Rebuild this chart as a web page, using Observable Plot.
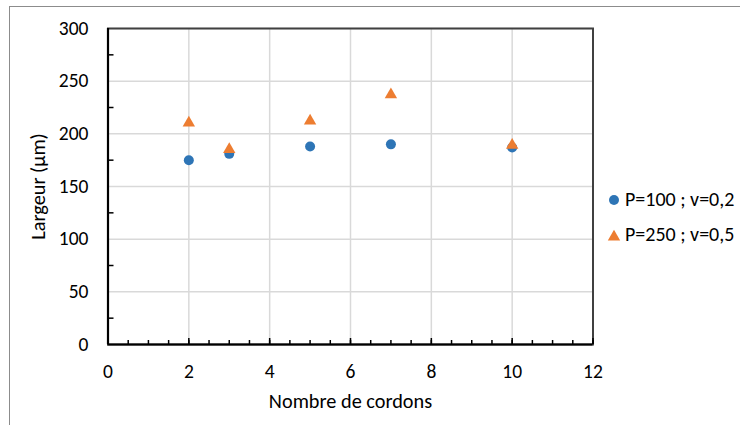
<!DOCTYPE html>
<html>
<head>
<meta charset="utf-8">
<script src="https://cdn.jsdelivr.net/npm/d3@7"></script>
<script src="https://cdn.jsdelivr.net/npm/@observablehq/plot@0.6"></script>
<style>
  html, body { margin: 0; padding: 0; background: #fff; }
  #wrap { position: relative; width: 740px; height: 425px; overflow: hidden; font-family: Carlito, Lato, sans-serif; }
  #border { position: absolute; left: 9px; top: 6px; width: 740px; height: 430px; border-top: 1px solid #8c8c8c; border-left: 1px solid #8c8c8c; }
  #chart { position: absolute; left: 0; top: 0; }
  #chart svg text { font-family: Carlito, Lato, sans-serif; fill: #000; }
  #chart svg g[aria-label="x-axis tick label"] text, #chart svg g[aria-label="y-axis tick label"] text { font-size: 19.5px; }
  #chart svg g[aria-label="x-axis label"] text, #chart svg g[aria-label="y-axis label"] text { font-size: 20.3px; }
  #legend { position: absolute; left: 0; top: 0; }
  #legend text { font-family: Carlito, Lato, sans-serif; font-size: 20px; fill: #000; }
</style>
</head>
<body>
<div id="wrap">
  <div id="border"></div>
  <div id="chart"></div>
  <svg id="legend" width="740" height="425"></svg>
</div>
<script>
const cordons = [2, 3, 5, 7, 10];
const series1Name = "P=100 ; v=0,2";
const series1 = [175, 181, 188, 190, 187];
const series2Name = "P=250 ; v=0,5";
const series2 = [212, 187, 214, 239, 191];
const xTicks = [0, 2, 4, 6, 8, 10, 12];
const yTicks = [0, 50, 100, 150, 200, 250, 300];
const xMinor = d3.range(0, 12.01, 0.5);
const yMinor = d3.range(25, 300, 50);
const xLabel = "Nombre de cordons";
const yLabel = "Largeur (µm)";
const blue = "#2E75B6";
const orange = "#ED7D31";

const d1 = cordons.map((x, i) => ({x, y: series1[i]}));
const d2 = cordons.map((x, i) => ({x, y: series2[i]}));

const W = 740, H = 425;
const mL = 107.5, mR = 147.5, mT = 28, mB = 81;
const plotH = H - mT - mB, plotW = W - mL - mR;
const triR = 4.6;

const chart = Plot.plot({
  width: W,
  height: H,
  marginLeft: mL,
  marginRight: mR,
  marginTop: mT,
  marginBottom: mB,
  style: {fontFamily: "Carlito, Lato, sans-serif", fontSize: "20px", color: "#000", background: "transparent"},
  x: {domain: [0, 12]},
  y: {domain: [0, 300]},
  marks: [
    Plot.gridX(xTicks, {stroke: "#d9d9d9", strokeOpacity: 1, strokeWidth: 1.5}),
    Plot.gridY(yTicks, {stroke: "#d9d9d9", strokeOpacity: 1, strokeWidth: 1.5}),
    Plot.frame({stroke: "#404040", strokeWidth: 2}),
    Plot.tickX(xMinor, {x: d => d, insetTop: plotH - 4, stroke: "#000", strokeWidth: 1.5}),
    Plot.tickX(xTicks, {x: d => d, insetTop: plotH - 6, stroke: "#000", strokeWidth: 1.5}),
    Plot.tickY(yMinor, {y: d => d, insetRight: plotW - 6, stroke: "#000", strokeWidth: 1.5}),
    Plot.ruleX([0], {stroke: "#000", strokeWidth: 2.2}),
    Plot.ruleY([0], {stroke: "#000", strokeWidth: 2.2}),
    Plot.axisX(xTicks, {tickSize: 0, tickPadding: 20, label: xLabel, labelAnchor: "center", labelArrow: "none", labelOffset: 63}),
    Plot.axisY(yTicks, {tickSize: 0, tickPadding: 19.5, label: yLabel, labelAnchor: "center", labelArrow: "none", labelOffset: 77}),
    Plot.dot(d1, {x: "x", y: "y", r: 5, fill: blue, symbol: "circle"}),
    Plot.dot(d2, {x: "x", y: "y", r: triR, fill: orange, symbol: "triangle", dy: 1.8})
  ]
});
document.getElementById("chart").appendChild(chart);

// legend
const lg = d3.select("#legend");
const items = [
  {name: series1Name, sym: d3.symbolCircle, size: Math.PI * 25, color: blue, cy: 200, dy: 0},
  {name: series2Name, sym: d3.symbolTriangle, size: Math.PI * triR * triR, color: orange, cy: 235, dy: 1.8}
];
items.forEach(it => {
  lg.append("path")
    .attr("transform", `translate(614,${it.cy + it.dy})`)
    .attr("d", d3.symbol(it.sym, it.size)())
    .attr("fill", it.color);
  lg.append("text").attr("x", 625).attr("y", it.cy + 6.2).text(it.name);
});
</script>
</body>
</html>
